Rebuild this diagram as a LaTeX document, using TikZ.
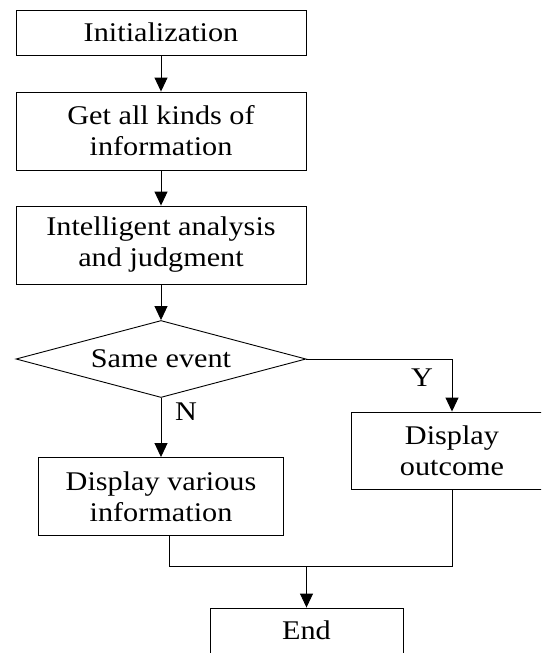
\documentclass[tikz,border=0pt]{standalone}
\usepackage{fontspec}
\setmainfont{Liberation Serif}[FakeStretch=1.12]
\usetikzlibrary{shapes.geometric,arrows.meta}

\tikzset{
  stepbox/.style={draw,line width=0.9pt,align=center,inner sep=0pt},
  decision/.style={draw,diamond,line width=0.9pt,aspect=3.6,inner sep=0pt,
    minimum width=290pt,minimum height=77pt},
  arr/.style={line width=0.9pt,-{Triangle[length=14pt,width=13pt]}},
  line/.style={line width=0.9pt}
}

\begin{document}
\begin{tikzpicture}[x=1pt,y=-1pt,font=\fontsize{27}{31}\selectfont]
  \clip (0,0) rectangle (541,653); % Fix the page size
  \node[stepbox,minimum width=290pt,minimum height=45pt] (init) at (161,32.5) {Initialization}; % Start box
  \node[stepbox,minimum width=290pt,minimum height=78pt] (info) at (161,131) {Get all kinds of\\information}; % Collect box
  \node[stepbox,minimum width=290pt,minimum height=78pt] (anal) at (161,245) {Intelligent analysis\\and judgment}; % Analysis box
  \node[decision] (same) at (161,359) {Same event}; % Decision
  \node[stepbox,minimum width=245pt,minimum height=78pt] (various) at (161,496.5) {Display various\\information}; % No branch
  \node[stepbox,minimum width=202pt,minimum height=77pt] (outcome) at (452,450.5) {Display\\outcome}; % Yes branch
  \node[stepbox,minimum width=193pt,minimum height=45pt] (end) at (306.5,630.5) {End}; % End box
  \coordinate (join) at (306.5,566); % Merge point
  \draw[arr] (init) -- (info);
  \draw[arr] (info) -- (anal);
  \draw[arr] (anal) -- (same);
  \draw[arr] (same.east) -| (outcome.north);
  \draw[arr] (same.south) -- (various.north);
  \draw[line] ([xshift=8pt]various.south) |- (join);
  \draw[line] (outcome.south) |- (join);
  \draw[arr] (join) -- (end.north);
  \node (ylab) at (422,378) {Y}; % Yes label
  \node (nlab) at (186,412) {N}; % No label
\end{tikzpicture}
\end{document}
